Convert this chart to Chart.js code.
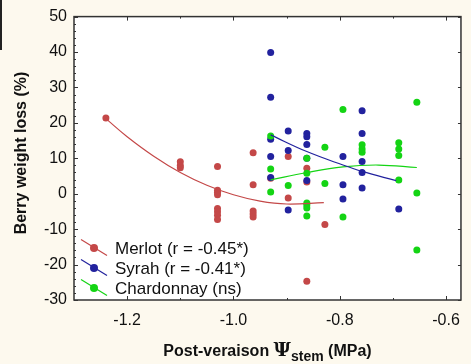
<!DOCTYPE html>
<html>
<head>
<meta charset="utf-8">
<script src="https://cdn.jsdelivr.net/npm/chart.js@4.4.1/dist/chart.umd.min.js"></script>
<style>
  html, body { margin: 0; padding: 0; background: #fdf9ee; }
  #wrap { width: 471px; height: 364px; position: relative; }
</style>
</head>
<body>
<div id="wrap"><canvas id="chart" width="471" height="364"></canvas></div>
<script>
// Merlot points
const merlotX = [-1.24, -1.10, -1.10, -1.10, -1.03, -1.03, -1.03, -1.03, -1.03, -1.03, -1.03, -1.03,
                 -0.963, -0.963, -0.963, -0.963, -0.963, -0.93, -0.897, -0.897, -0.862, -0.862, -0.862, -0.828];
const merlotY = [21.4, 9.0, 8.0, 7.3, 7.7, 1.0, 0.4, -0.3, -4.2, -5.1, -6.1, -7.3,
                 11.6, 2.5, -4.9, -5.7, -6.6, 4.4, 10.5, -1.2, 7.2, 3.3, -24.7, -8.7];

// Syrah points
const syrahX = [-0.93, -0.93, -0.93, -0.93, -0.93, -0.897, -0.897, -0.897,
                -0.862, -0.862, -0.862, -0.862, -0.862, -0.794, -0.794, -0.794,
                -0.758, -0.758, -0.758, -0.758, -0.758, -0.689];
const syrahY = [39.9, 27.2, 15.4, 10.5, 4.6, 17.7, 12.2, -4.6,
                17.0, 16.1, 13.9, 10.0, 3.7, 10.5, 2.5, -1.5,
                23.4, 17.0, 9.1, 6.0, 1.6, -4.3];

// Chardonnay points
const chardX = [-0.93, -0.93, -0.93, -0.897, -0.862, -0.862, -0.862, -0.862, -0.862, -0.862,
                -0.828, -0.828, -0.794, -0.794, -0.758, -0.758, -0.758,
                -0.689, -0.689, -0.689, -0.689, -0.655, -0.655, -0.655];
const chardY = [16.3, 7.0, 0.5, 2.3, 10.0, 5.8, -2.6, -3.2, -4.0, -6.3,
                13.1, 2.9, 23.8, -6.6, 13.8, 12.6, 11.7,
                14.4, 12.6, 10.8, 3.9, 25.8, 0.2, -15.9];

// fitted curves
const merlotFitX = [-1.24, -1.20, -1.15, -1.10, -1.05, -1.00, -0.95, -0.90, -0.83];
const merlotFitY = [21.2, 16.1, 10.6, 6.0, 2.4, -0.3, -2.1, -2.9, -2.5];
const syrahFitX = [-0.93, -0.862, -0.794, -0.758, -0.694];
const syrahFitY = [16.6, 11.9, 8.1, 6.3, 3.7];
const chardFitX = [-0.93, -0.862, -0.794, -0.727, -0.655];
const chardFitY = [3.9, 6.0, 7.6, 8.1, 7.4];

const legendLabels = ['Merlot (r = -0.45*)', 'Syrah (r = -0.41*)', 'Chardonnay (ns)'];
const xTicks = [-1.2, -1.0, -0.8, -0.6];
const xMinorTicks = [-1.1, -0.9, -0.7];

const colors = ['#c44848', '#22229e', '#14d414'];

function pts(xs, ys) { return xs.map((x, i) => ({ x: x, y: ys[i] })); }

const pointSets = [pts(merlotX, merlotY), pts(syrahX, syrahY), pts(chardX, chardY)];
const fitSets = [pts(merlotFitX, merlotFitY), pts(syrahFitX, syrahFitY), pts(chardFitX, chardFitY)];

const datasets = [];
fitSets.forEach((d, i) => {
    datasets.push({
        data: d, showLine: true, pointRadius: 0, borderColor: colors[i],
        borderWidth: 1.2, tension: 0.4, fill: false, order: 0
    });
});
pointSets.forEach((d, i) => {
    datasets.push({
        data: d, showLine: false, pointRadius: 3.5, pointHoverRadius: 3.5,
        backgroundColor: colors[i], borderWidth: 0, order: 3 - i
    });
});

// background, frame, inward ticks, legend and axis titles
const decor = {
    id: 'decor',
    beforeDraw(chart) {
        const { ctx, chartArea: a } = chart;
        ctx.save();
        ctx.fillStyle = '#ffffff';
        ctx.fillRect(a.left, a.top, a.right - a.left, a.bottom - a.top);
        ctx.restore();
    },
    afterDraw(chart) {
        const { ctx, chartArea: a } = chart;
        const xs = chart.scales.x, ys = chart.scales.y;
        ctx.save();
        ctx.strokeStyle = '#333';
        ctx.lineWidth = 1.5;
        ctx.strokeRect(a.left, a.top, a.right - a.left, a.bottom - a.top);

        ctx.lineWidth = 1;
        ctx.beginPath();
        xTicks.forEach(v => {
            const px = Math.round(xs.getPixelForValue(v)) + 0.5;
            ctx.moveTo(px, a.bottom); ctx.lineTo(px, a.bottom - 4);
            ctx.moveTo(px, a.top); ctx.lineTo(px, a.top + 4);
        });
        xMinorTicks.forEach(v => {
            const px = Math.round(xs.getPixelForValue(v)) + 0.5;
            ctx.moveTo(px, a.bottom); ctx.lineTo(px, a.bottom - 2);
            ctx.moveTo(px, a.top); ctx.lineTo(px, a.top + 2);
        });
        for (let v = -30; v <= 50; v += 2) {
            const py = Math.round(ys.getPixelForValue(v)) + 0.5;
            const len = v % 10 === 0 ? 4 : 2;
            ctx.moveTo(a.left, py); ctx.lineTo(a.left + len, py);
            if (v % 10 === 0) { ctx.moveTo(a.right, py); ctx.lineTo(a.right - 3, py); }
        }
        ctx.stroke();

        // stray edge at top left
        ctx.fillStyle = '#222';
        ctx.fillRect(0, 0, 2, 50);

        // legend
        ctx.font = '17px "Liberation Sans", Arial, sans-serif';
        ctx.textBaseline = 'middle';
        legendLabels.forEach((lab, i) => {
            const cy = 248.5 + i * 20;
            ctx.strokeStyle = colors[i];
            ctx.lineWidth = 1.2;
            ctx.beginPath();
            ctx.moveTo(81, cy - 9); ctx.lineTo(107, cy + 7);
            ctx.stroke();
            ctx.fillStyle = colors[i];
            ctx.beginPath();
            ctx.arc(94, cy - 0.5, 4, 0, Math.PI * 2);
            ctx.fill();
            ctx.fillStyle = '#111';
            ctx.fillText(lab, 115, cy + 1);
        });

        // x title with subscript
        ctx.fillStyle = '#111';
        ctx.textBaseline = 'alphabetic';
        const base = 356;
        const f1 = 'bold 16px "Liberation Sans", Arial, sans-serif';
        const f2 = 'bold 19px "DejaVu Serif", serif';
        const f3 = 'bold 14px "Liberation Sans", Arial, sans-serif';
        const parts = [['Post-veraison ', f1, 0], ['\u03A8', f2, 0], ['stem', f3, 5], [' (MPa)', f1, 0]];
        let total = 0;
        parts.forEach(p => { ctx.font = p[1]; total += ctx.measureText(p[0]).width; });
        let x = (a.left + a.right) / 2 - total / 2;
        parts.forEach(p => {
            ctx.font = p[1];
            ctx.fillText(p[0], x, base + p[2]);
            x += ctx.measureText(p[0]).width;
        });

        // y title
        ctx.save();
        ctx.translate(26, 153);
        ctx.rotate(-Math.PI / 2);
        ctx.font = f1;
        ctx.textAlign = 'center';
        ctx.fillText('Berry weight loss (%)', 0, 0);
        ctx.restore();

        ctx.restore();
    }
};

new Chart(document.getElementById('chart'), {
    type: 'scatter',
    data: { datasets: datasets },
    options: {
        responsive: false,
        animation: false,
        events: [],
        layout: { padding: { top: 14, right: 0, left: 0, bottom: 0 } },
        plugins: { legend: { display: false }, tooltip: { enabled: false } },
        scales: {
            x: {
                type: 'linear', min: -1.3, max: -0.572,
                afterBuildTicks: s => { s.ticks = xTicks.map(v => ({ value: v })); },
                afterFit: s => { s.height = 64; },
                grid: { display: false, drawTicks: false },
                border: { display: false },
                ticks: {
                    padding: 11, color: '#111',
                    font: { family: '"Liberation Sans", Arial, sans-serif', size: 16 },
                    callback: v => v.toFixed(1)
                }
            },
            y: {
                min: -30, max: 50,
                afterFit: s => { s.width = 74; },
                grid: { display: false, drawTicks: false },
                border: { display: false },
                ticks: {
                    stepSize: 10, padding: 7, color: '#111',
                    font: { family: '"Liberation Sans", Arial, sans-serif', size: 16 }
                }
            }
        }
    },
    plugins: [decor]
});
</script>
</body>
</html>
